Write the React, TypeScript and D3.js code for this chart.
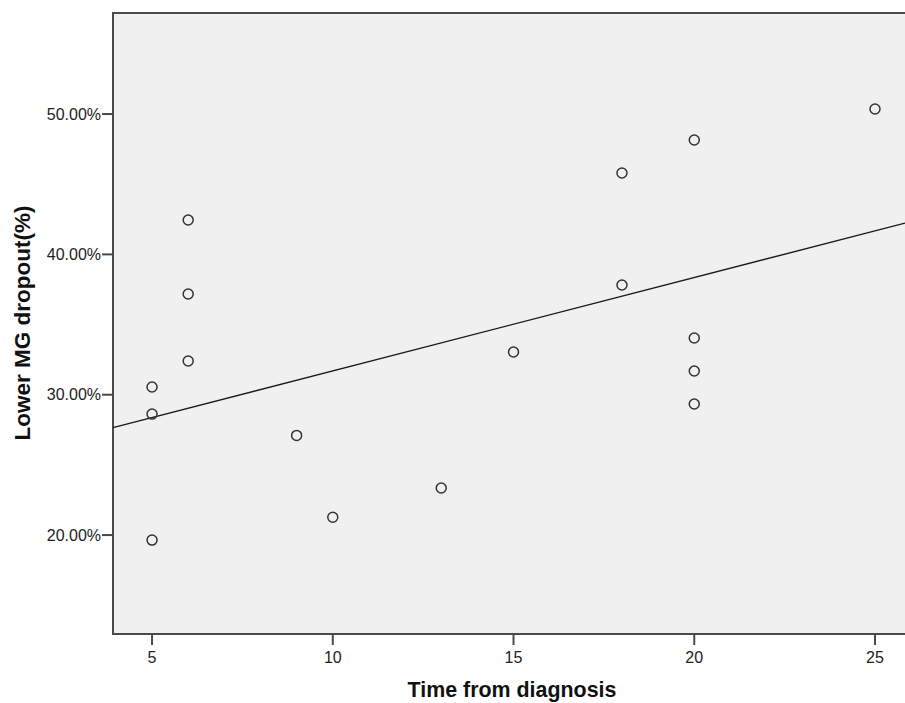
import React, { useEffect, useRef } from "react";
import * as d3 from "d3";

// Time from diagnosis (years) and lower MG dropout (%)
const timeFromDiagnosis = [5, 5, 5, 6, 6, 6, 9, 10, 13, 15, 18, 18, 20, 20, 20, 20, 25];
const lowerMgDropout = [19.64, 28.62, 30.55, 32.4, 37.18, 42.45, 27.1, 21.27, 23.35, 33.04, 45.8, 37.82, 48.15, 34.04, 31.69, 29.34, 50.36];

const xTicks = [5, 10, 15, 20, 25];
const yTicks = [20, 30, 40, 50];

const xTitle = "Time from diagnosis";
const yTitle = "Lower MG dropout(%)";

const App = () => {
  const chartRef = useRef<HTMLDivElement | null>(null);

  useEffect(() => {
    d3.select(chartRef.current).selectAll("*").remove();

    const width = 905;
    const height = 703;
    const plot = { left: 113, top: 13, right: 905, bottom: 634 };
    const axisColor = "#4a4a4a";
    const font = "'Liberation Sans', Arial, sans-serif";

    const svg = d3
      .select(chartRef.current)
      .append("svg")
      .attr("width", width)
      .attr("height", height)
      .style("display", "block");

    const x = d3.scaleLinear().domain([3.92, 25.83]).range([plot.left, plot.right]);
    const y = d3.scaleLinear().domain([12.95, 57.2]).range([plot.bottom, plot.top]);

    // plot background
    svg
      .append("rect")
      .attr("x", plot.left)
      .attr("y", plot.top)
      .attr("width", plot.right - plot.left)
      .attr("height", plot.bottom - plot.top)
      .attr("fill", "#f0f0f0");

    // frame: top, left, bottom (right runs off the edge)
    svg
      .append("path")
      .attr("d", `M${plot.right},${plot.top}H${plot.left}V${plot.bottom}H${plot.right}`)
      .attr("fill", "none")
      .attr("stroke", axisColor)
      .attr("stroke-width", 2);

    // y ticks
    const yAxis = svg.append("g");
    yAxis
      .selectAll("line")
      .data(yTicks)
      .enter()
      .append("line")
      .attr("x1", plot.left - 11)
      .attr("x2", plot.left)
      .attr("y1", (d) => y(d))
      .attr("y2", (d) => y(d))
      .attr("stroke", axisColor)
      .attr("stroke-width", 2);
    yAxis
      .selectAll("text")
      .data(yTicks)
      .enter()
      .append("text")
      .attr("x", plot.left - 12)
      .attr("y", (d) => y(d))
      .attr("dy", "0.36em")
      .attr("text-anchor", "end")
      .style("font-family", font)
      .style("font-size", "16px")
      .attr("fill", "#222")
      .text((d) => `${d3.format(".2f")(d)}%`);

    // x ticks
    const xAxis = svg.append("g");
    xAxis
      .selectAll("line")
      .data(xTicks)
      .enter()
      .append("line")
      .attr("x1", (d) => x(d))
      .attr("x2", (d) => x(d))
      .attr("y1", plot.bottom)
      .attr("y2", plot.bottom + 11)
      .attr("stroke", axisColor)
      .attr("stroke-width", 2);
    xAxis
      .selectAll("text")
      .data(xTicks)
      .enter()
      .append("text")
      .attr("x", (d) => x(d))
      .attr("y", plot.bottom + 29)
      .attr("text-anchor", "middle")
      .style("font-family", font)
      .style("font-size", "16px")
      .attr("fill", "#222")
      .text((d) => d);

    // least squares fit line
    const mx = d3.mean(timeFromDiagnosis) as number;
    const my = d3.mean(lowerMgDropout) as number;
    const sxy = d3.sum(timeFromDiagnosis, (d, i) => (d - mx) * (lowerMgDropout[i] - my));
    const sxx = d3.sum(timeFromDiagnosis, (d) => (d - mx) ** 2);
    const slope = sxy / sxx;
    const intercept = my - slope * mx;
    const [x0, x1] = x.domain();
    svg
      .append("line")
      .attr("x1", x(x0))
      .attr("y1", y(intercept + slope * x0))
      .attr("x2", x(x1))
      .attr("y2", y(intercept + slope * x1))
      .attr("stroke", "#1a1a1a")
      .attr("stroke-width", 1.4);

    // points
    svg
      .append("g")
      .selectAll("circle")
      .data(timeFromDiagnosis)
      .enter()
      .append("circle")
      .attr("cx", (d) => x(d))
      .attr("cy", (d, i) => y(lowerMgDropout[i]))
      .attr("r", 5)
      .attr("fill", "none")
      .attr("stroke", "#333")
      .attr("stroke-width", 1.5);

    // axis titles
    svg
      .append("text")
      .attr("x", 512)
      .attr("y", 697)
      .attr("text-anchor", "middle")
      .style("font-family", font)
      .style("font-weight", "bold")
      .style("font-size", "21.4px")
      .attr("fill", "#111")
      .text(xTitle);

    svg
      .append("text")
      .attr("transform", "translate(30,323) rotate(-90)")
      .attr("text-anchor", "middle")
      .style("font-family", font)
      .style("font-weight", "bold")
      .style("font-size", "22.5px")
      .attr("fill", "#111")
      .text(yTitle);
  }, []);

  return <div ref={chartRef} style={{ position: "absolute", left: 0, top: 0 }}></div>;
};

export default App;
